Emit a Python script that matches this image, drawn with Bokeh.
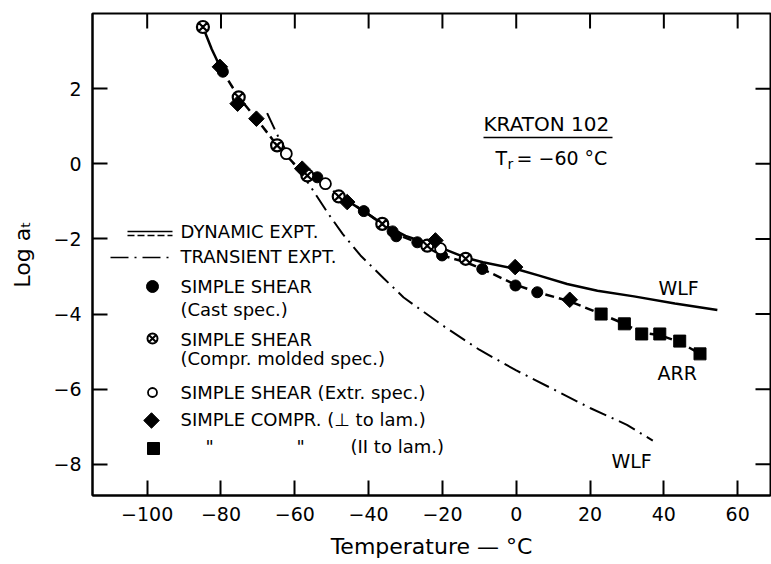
import numpy as np
from bokeh.plotting import figure
from bokeh.models import Range1d, FixedTicker, Label, CustomJSTickFormatter
from bokeh.embed import file_html
from bokeh.resources import INLINE

# ---------------- data ----------------
x_ticks = [-100, -80, -60, -40, -20, 0, 20, 40, 60]
y_ticks = [-8, -6, -4, -2, 0, 2]

# dynamic experiment, WLF (solid)
wlf_dyn_T1 = [-84.9, -82.5, -80.0]
wlf_dyn_L1 = [3.64, 3.05, 2.53]
wlf_dyn_T = [-48.0, -41.3, -36.3, -30.0, -20.0, -13.7, -9.0, 0.0, 6.0, 13.8, 22.0, 31.9, 43.0, 54.5]
wlf_dyn_L = [-0.85, -1.26, -1.6, -1.92, -2.25, -2.5, -2.62, -2.8, -2.97, -3.2, -3.38, -3.53, -3.72, -3.89]

# dynamic experiment, ARR (dashed)
arr_T = [-80.0, -75.2, -70.4, -64.8, -60.0, -56.8, -52.0, -48.0, -41.3, -36.3, -33.0, -26.8,
         -20.1, -13.7, -9.2, -0.2, 5.7, 14.5, 23.0, 29.3, 34.0, 38.9, 44.3, 49.8]
arr_L = [2.53, 1.77, 1.2, 0.49, -0.02, -0.28, -0.53, -0.85, -1.26, -1.6, -1.86, -2.09,
         -2.44, -2.62, -2.8, -3.22, -3.42, -3.66, -4.0, -4.26, -4.5, -4.56, -4.75, -5.06]

# transient experiment, WLF (dash-dot)
trans_T = [-67.5, -64.4, -60.0, -56.3, -51.0, -47.1, -42.2, -36.0, -30.5, -20.0, -10.0, 0.0, 10.0, 20.0, 30.0, 37.0]
trans_L = [1.35, 0.7, -0.05, -0.52, -1.32, -1.86, -2.44, -3.04, -3.56, -4.3, -4.95, -5.5, -6.0, -6.5, -6.95, -7.37]

# simple shear, cast spec. (filled circles)
cast_T = [-79.5, -53.9, -41.3, -33.5, -32.5, -26.8, -20.1, -9.2, -0.2, 5.7]
cast_L = [2.45, -0.36, -1.26, -1.8, -1.93, -2.09, -2.44, -2.80, -3.24, -3.42]
# simple shear, compr. molded spec. (crossed circles)
molded_T = [-84.9, -75.2, -64.8, -56.6, -48.1, -36.3, -24.1, -13.7]
molded_L = [3.64, 1.77, 0.49, -0.31, -0.87, -1.6, -2.18, -2.53]
# simple shear, extr. spec. (open circles)
extr_T = [-62.3, -51.7, -20.5]
extr_L = [0.27, -0.53, -2.26]
# simple compr. perpendicular to lam. (diamonds)
perp_T = [-80.3, -75.5, -70.4, -58.0, -45.8, -21.9, -0.3, 14.5]
perp_L = [2.58, 1.6, 1.2, -0.13, -1.02, -2.04, -2.75, -3.62]
# simple compr. parallel to lam. (squares)
par_T = [23.0, 29.3, 34.0, 38.9, 44.3, 49.8]
par_L = [-4.0, -4.26, -4.53, -4.53, -4.72, -5.06]

legend_texts = ["DYNAMIC EXPT.", "TRANSIENT EXPT.", "SIMPLE SHEAR", "(Cast spec.)",
                "SIMPLE SHEAR", "(Compr. molded spec.)", "SIMPLE SHEAR (Extr. spec.)",
                "SIMPLE COMPR. (\u22a5 to lam.)", "\"", "\"", "(II to lam.)"]

x_title = "Temperature \u2014 \u00b0C"
y_title = "Log a\u209c"

# ---------------- layout ----------------
W, H = 771, 564
FL, FR, FT, FB = 92, 770, 13, 495
X0, X1 = -114.82, 68.9
Y0, Y1 = -8.83, 4.0
PXX = (X1 - X0) / (FR - FL)   # data units per pixel (x)
PXY = (Y1 - Y0) / (FB - FT)   # data units per pixel (y)


def dx(px):
    return X0 + (px - FL) * PXX


def dy(py):
    return Y1 - (py - FT) * PXY


FONT = "DejaVu Sans"

p = figure(width=W, height=H, output_backend="svg", toolbar_location=None,
           x_range=Range1d(X0, X1), y_range=Range1d(Y0, Y1),
           min_border_left=FL, min_border_right=W - FR, min_border_top=FT,
           min_border_bottom=H - FB)
p.xgrid.grid_line_color = None
p.ygrid.grid_line_color = None
p.outline_line_color = "black"
p.outline_line_width = 2
p.background_fill_color = "white"
p.border_fill_color = "white"

fmt = CustomJSTickFormatter(code="return tick < 0 ? '\\u2212' + Math.abs(tick) : String(tick);")

for ax, ticks in ((p.xaxis[0], x_ticks), (p.yaxis[0], y_ticks)):
    ax.ticker = FixedTicker(ticks=ticks)
    ax.formatter = fmt
    ax.major_tick_in = 15
    ax.major_tick_out = 0
    ax.minor_tick_line_color = None
    ax.major_tick_line_width = 2
    ax.axis_line_width = 2
    ax.axis_line_color = "black"
    ax.major_tick_line_color = "black"
    ax.major_label_text_font = FONT
    ax.major_label_text_font_size = "19px"
    ax.major_label_text_color = "black"
    ax.axis_label_text_font = FONT
    ax.axis_label_text_font_style = "normal"
    ax.axis_label_text_color = "black"

p.xaxis[0].major_label_standoff = 11
p.xaxis[0].axis_label = x_title
p.xaxis[0].axis_label_text_font_size = "22px"
p.xaxis[0].axis_label_standoff = 10
p.yaxis[0].major_label_standoff = 11
p.yaxis[0].axis_label = y_title
p.yaxis[0].axis_label_text_font_size = "22px"
p.yaxis[0].axis_label_standoff = 15

# inward ticks on the top and right edges of the frame
tick_len = 15
p.segment(x0=x_ticks, x1=x_ticks, y0=[Y1] * len(x_ticks), y1=[Y1 - tick_len * PXY] * len(x_ticks),
          line_color="black", line_width=2)
p.segment(x0=[X1] * len(y_ticks), x1=[X1 - tick_len * PXX] * len(y_ticks), y0=y_ticks, y1=y_ticks,
          line_color="black", line_width=2)

# ---------------- curves ----------------
LW = 2.5
p.line(wlf_dyn_T1, wlf_dyn_L1, line_color="black", line_width=LW)
p.line(wlf_dyn_T, wlf_dyn_L, line_color="black", line_width=LW)
p.line(arr_T, arr_L, line_color="black", line_width=LW, line_dash="9 5")
p.line(trans_T, trans_L, line_color="black", line_width=2, line_dash="18 6 2 6")

# ---------------- markers ----------------
p.scatter(cast_T, cast_L, marker="circle", size=11, fill_color="black", line_color="black")
p.scatter(molded_T, molded_L, marker="circle_x", size=12, fill_color="white", line_color="black", line_width=2.2)
p.scatter(extr_T, extr_L, marker="circle", size=11, fill_color="white", line_color="black", line_width=1.8)
p.scatter(perp_T, perp_L, marker="square", angle=np.pi / 4, size=11, fill_color="black", line_color="black")
p.scatter(par_T, par_L, marker="square", size=12, fill_color="black", line_color="black")

# ---------------- legend (drawn inside the frame) ----------------
p.line([dx(127), dx(172)], [dy(231), dy(231)], line_color="black", line_width=1.6)
p.line([dx(127), dx(172)], [dy(235), dy(235)], line_color="black", line_width=1.6, line_dash="7 3")
p.line([dx(110), dx(172)], [dy(257), dy(257)], line_color="black", line_width=1.6, line_dash="18 6 2 6")
p.scatter([dx(152)], [dy(286)], marker="circle", size=12, fill_color="black", line_color="black")
p.scatter([dx(152)], [dy(338)], marker="circle_x", size=10, fill_color="white", line_color="black", line_width=2)
p.scatter([dx(152)], [dy(392)], marker="circle", size=9, fill_color="white", line_color="black", line_width=1.8)
p.scatter([dx(151)], [dy(420)], marker="square", angle=np.pi / 4, size=11, fill_color="black", line_color="black")
p.scatter([dx(153)], [dy(448)], marker="square", size=12, fill_color="black", line_color="black")

leg_pos = [(180, 231), (180, 256), (180, 286), (180, 309), (180, 339), (180, 358),
           (180, 392), (180, 419), (205, 446), (296, 446), (350, 446)]
for (px, py), t in zip(leg_pos, legend_texts):
    p.add_layout(Label(x=dx(px), y=dy(py), text=t, text_font=FONT, text_font_size="18px",
                       text_align="left", text_baseline="middle", text_color="black"))


def lab(px, py, t, size, align="left", angle=0.0):
    p.add_layout(Label(x=dx(px), y=dy(py), text=t, text_font=FONT, text_font_size=size,
                       text_align=align, text_baseline="middle", text_color="black", angle=angle))


# annotations
lab(483, 123, "KRATON 102", "20px")
p.line([dx(483), dx(612)], [dy(137), dy(137)], line_color="black", line_width=1.6)
lab(495, 157, "T", "19px")
lab(507, 163, "r", "14px")
lab(516, 157, "= \u221260 \u00b0C", "19px")
lab(658, 287, "WLF", "19px")
lab(657, 372, "ARR", "19px")
lab(611, 460, "WLF", "19px")

open("out.html", "w").write(file_html(p, INLINE))
